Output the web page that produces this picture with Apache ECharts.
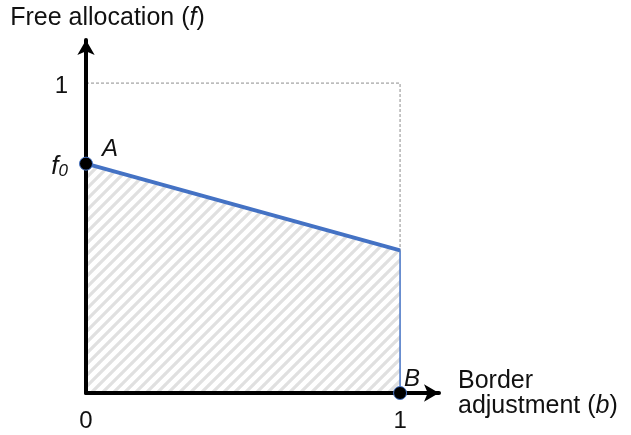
<!DOCTYPE html>
<html>
<head>
<meta charset="utf-8">
<script src="https://cdn.jsdelivr.net/npm/echarts@6/dist/echarts.min.js"></script>
<style>html,body{margin:0;padding:0;background:#fff;}#c{width:631px;height:435px;}</style>
</head>
<body>
<div id="c"></div>
<script>
// Data
var f0 = 0.74;          // free allocation at b = 0 (point A)
var fAtB1 = 0.46;       // free allocation at b = 1
var regionPoints = [[0, 0], [0, f0], [1, fAtB1], [1, 0]];
var frontier = [[0, f0], [1, fAtB1]];
var boundBox = [[0, 1], [1, 1], [1, fAtB1]];
var pointNames = ['A', 'B'];
var pointValues = [[0, f0], [1, 0]];
var xTickValues = [0, 1];
var yTickValues = [f0, 1];

// hatch pattern
var tile = document.createElement('canvas');
var s = 11;
tile.width = s; tile.height = s;
var ctx = tile.getContext('2d');
ctx.strokeStyle = '#e0e0e0';
ctx.lineWidth = 3.2;
ctx.beginPath();
ctx.moveTo(-1, s + 1); ctx.lineTo(s + 1, -1);
ctx.moveTo(-1 - s, s + 1); ctx.lineTo(1, -1);
ctx.moveTo(s - 1, s + 1); ctx.lineTo(2 * s + 1, -1);
ctx.stroke();

var font = 'Liberation Sans, Arial, sans-serif';
var txt = '#111';
var chart = echarts.init(document.getElementById('c'), null, {renderer: 'canvas'});
chart.setOption({
  animation: false,
  backgroundColor: '#ffffff',
  grid: {left: 86, top: 40, width: 353, height: 353, containLabel: false, outerBoundsMode: 'none'},
  xAxis: {
    type: 'value', min: 0, max: 1.124, z: 4,
    name: 'Border\nadjustment ({i|b})',
    nameLocation: 'end', nameGap: 19,
    nameTextStyle: {fontFamily: font, fontSize: 25, color: txt, align: 'left', lineHeight: 25, padding: [2, 0, 0, 0],
      rich: {i: {fontFamily: font, fontSize: 25, fontStyle: 'italic', color: txt, lineHeight: 25}}},
    axisLine: {show: true, lineStyle: {color: '#000', width: 4}, symbol: ['none', 'arrow'], symbolSize: [13, 15]},
    axisTick: {show: false},
    splitLine: {show: false},
    axisLabel: {customValues: xTickValues, fontFamily: font, fontSize: 24, color: txt, margin: 16,
      formatter: function (v) { return String(v); }}
  },
  yAxis: {
    type: 'value', min: 0, max: 1.139, z: 4,
    name: 'Free allocation ({i|f})',
    nameLocation: 'end', nameGap: 9,
    nameTextStyle: {fontFamily: font, fontSize: 25, color: txt, align: 'center', lineHeight: 25, padding: [0, 0, 0, 43],
      rich: {i: {fontFamily: font, fontSize: 25, fontStyle: 'italic', color: txt, lineHeight: 25}}},
    axisLine: {show: true, lineStyle: {color: '#000', width: 4}, symbol: ['none', 'arrow'], symbolSize: [13, 15]},
    axisTick: {show: false},
    splitLine: {show: false},
    axisLabel: {customValues: yTickValues, fontFamily: font, fontSize: 24, color: txt, margin: 18,
      padding: [6, 0, 0, 0],
      formatter: function (v) { return v === 1 ? '1' : '{i|f}{s|0}'; },
      rich: {
        i: {fontFamily: font, fontSize: 26, fontStyle: 'italic', color: txt, verticalAlign: 'bottom', lineHeight: 26},
        s: {fontFamily: font, fontSize: 17, fontStyle: 'italic', color: txt, verticalAlign: 'bottom', lineHeight: 12}
      }}
  },
  series: [
    {
      type: 'line', data: regionPoints, symbol: 'none', z: 1,
      lineStyle: {color: '#4472C4', width: 1.5},
      areaStyle: {color: {image: tile, repeat: 'repeat'}, opacity: 1}
    },
    {
      type: 'line', data: boundBox, symbol: 'none', z: 2,
      lineStyle: {color: '#8c8c8c', width: 1, type: [3, 2]}
    },
    {
      type: 'line', data: frontier, symbol: 'none', z: 3,
      lineStyle: {color: '#4472C4', width: 4}
    },
    {
      type: 'scatter', symbol: 'circle', symbolSize: 13, z: 5,
      itemStyle: {color: '#000', borderColor: '#4472C4', borderWidth: 1, opacity: 1},
      label: {
        show: true, formatter: '{b}', fontFamily: font, fontSize: 24, fontStyle: 'italic', color: txt,
        position: 'inside', align: 'center', verticalAlign: 'middle'
      },
      data: [
        {name: pointNames[0], value: pointValues[0], label: {offset: [24, -14]}},
        {name: pointNames[1], value: pointValues[1], label: {offset: [12, -14]}}
      ]
    }
  ]
});
</script>
</body>
</html>
